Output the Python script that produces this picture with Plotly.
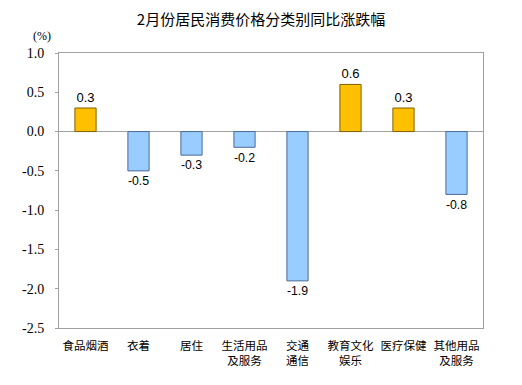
import plotly.graph_objects as go

categories = ["食品烟酒", "衣着", "居住", "生活用品<br>及服务", "交通<br>通信", "教育文化<br>娱乐", "医疗保健", "其他用品<br>及服务"]
values = [0.3, -0.5, -0.3, -0.2, -1.9, 0.6, 0.3, -0.8]
tick_vals = [1.0, 0.5, 0.0, -0.5, -1.0, -1.5, -2.0, -2.5]
tick_text = ["1.0", "0.5", "0.0", "-0.5", "-1.0", "-1.5", "-2.0", "-2.5"]
title = "2月份居民消费价格分类别同比涨跌幅"
unit = "(%)"

fill = ["#FFC000" if v >= 0 else "#99CCFF" for v in values]
edge = ["#7F6000" if v >= 0 else "#4A6A99" for v in values]

fig = go.Figure(go.Bar(
    x=categories, y=values,
    marker=dict(color=fill, line=dict(color=edge, width=1)),
    width=0.4,
    text=[f"{v:.1f}" for v in values],
    textposition="outside",
    textfont=dict(family="Liberation Sans, Arial", size=13, color="#000"),
    cliponaxis=False,
))

fig.update_layout(
    width=522, height=385,
    margin=dict(l=59, r=39, t=53, b=57),
    paper_bgcolor="white", plot_bgcolor="white",
    showlegend=False,
    title=dict(text=title, x=0.5, xanchor="center", y=0.948, yanchor="middle",
               font=dict(family="Noto Sans CJK SC", size=15, color="#000")),
    annotations=[dict(text=unit, xref="paper", yref="paper", x=-0.015, y=1.062,
                      xanchor="right", yanchor="middle", showarrow=False,
                      font=dict(family="Liberation Serif, Times New Roman", size=12, color="#000"))],
    xaxis=dict(showline=True, linecolor="#A0A0A0", linewidth=1, mirror=True,
               tickfont=dict(family="Noto Sans CJK SC", size=11.5, color="#000"),
               ticks="", showgrid=False, zeroline=False, automargin=False,
               ticklabelstandoff=7),
    yaxis=dict(range=[-2.5, 1.0], tickvals=tick_vals, ticktext=tick_text,
               showline=True, linecolor="#A0A0A0", linewidth=1, mirror=True,
               ticks="outside", ticklen=3, tickcolor="#A0A0A0",
               tickfont=dict(family="Liberation Serif, Times New Roman", size=14, color="#000"),
               showgrid=False, zeroline=True, zerolinecolor="#A0A0A0", zerolinewidth=1,
               automargin=False, ticklabelstandoff=8),
    bargap=0.6,
)

fig.write_html("out.html", config={"displayModeBar": False},
               post_script="document.body.style.margin='0';")
